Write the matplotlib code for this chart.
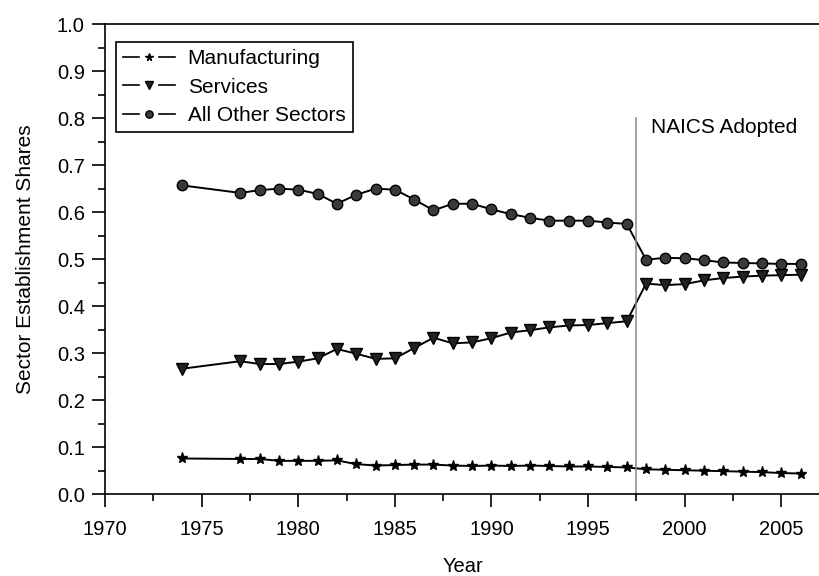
import matplotlib.pyplot as plt
from matplotlib.ticker import MultipleLocator
from matplotlib.lines import Line2D
from matplotlib.legend_handler import HandlerBase

plt.rcParams['font.family'] = ['Liberation Sans', 'DejaVu Sans']

years = [1974, 1977, 1978, 1979, 1980, 1981, 1982, 1983, 1984, 1985, 1986,
         1987, 1988, 1989, 1990, 1991, 1992, 1993, 1994, 1995, 1996, 1997,
         1998, 1999, 2000, 2001, 2002, 2003, 2004, 2005, 2006]

manufacturing = [0.076, 0.075, 0.075, 0.071, 0.071, 0.071, 0.072, 0.064, 0.061, 0.062, 0.063,
                 0.063, 0.061, 0.060, 0.061, 0.060, 0.061, 0.060, 0.059, 0.059, 0.058, 0.057,
                 0.053, 0.052, 0.051, 0.050, 0.049, 0.048, 0.047, 0.045, 0.044]

services = [0.267, 0.283, 0.277, 0.277, 0.282, 0.289, 0.309, 0.299, 0.288, 0.289, 0.311,
            0.333, 0.321, 0.323, 0.332, 0.344, 0.349, 0.355, 0.359, 0.360, 0.364, 0.368,
            0.448, 0.445, 0.447, 0.455, 0.460, 0.463, 0.465, 0.466, 0.467]

other = [0.657, 0.641, 0.647, 0.650, 0.648, 0.639, 0.618, 0.637, 0.650, 0.648, 0.627,
         0.604, 0.618, 0.618, 0.606, 0.596, 0.588, 0.582, 0.582, 0.582, 0.578, 0.575,
         0.499, 0.503, 0.502, 0.498, 0.493, 0.492, 0.491, 0.490, 0.490]

labels = ['Manufacturing', 'Services', 'All Other Sectors']
naics_year = 1997.5


class GapLineHandler(HandlerBase):
    # draws a legend key as  line - gap - marker - gap - line
    def create_artists(self, legend, orig, xdescent, ydescent, width, height,
                       fontsize, trans):
        y = height / 2 - ydescent
        x0, x1 = -xdescent, width - xdescent
        xc = (x0 + x1) / 2
        gap = 0.19 * width
        left = Line2D([x0, xc - gap], [y, y], color='black', lw=1.2)
        right = Line2D([xc + gap, x1], [y, y], color='black', lw=1.2)
        mk = Line2D([xc], [y], ls='none', marker=orig.get_marker(),
                    ms=orig.get_markersize() * 0.7, mfc=orig.get_markerfacecolor(),
                    mec='black')
        for a in (left, right, mk):
            a.set_transform(trans)
        return [left, right, mk]


fig = plt.figure(figsize=(8.2, 5.76), dpi=100)
ax = fig.add_axes([0.128, 0.142, 0.872, 0.816])

styles = [('*', 8, 'black'), ('v', 8, '#222222'), ('o', 7.5, '#3a3a3a')]
lines = []
for vals, (m, s, fc) in zip([manufacturing, services, other], styles):
    ln, = ax.plot(years, vals, color='black', lw=1.4, marker=m, ms=s, mfc=fc, mec='black')
    lines.append(ln)

ax.plot([naics_year, naics_year], [0, 0.8], color='#888888', lw=1.1)
ax.text(naics_year + 0.75, 0.78, 'NAICS Adopted', fontsize=15, va='center')

ax.set_xlim(1970, 2007)
ax.set_ylim(0, 1.0)
ax.xaxis.set_major_locator(MultipleLocator(5))
ax.xaxis.set_minor_locator(MultipleLocator(2.5))
ax.yaxis.set_major_locator(MultipleLocator(0.1))
ax.yaxis.set_minor_locator(MultipleLocator(0.05))
ax.yaxis.set_major_formatter(plt.FormatStrFormatter('%.1f'))
ax.tick_params(which='major', direction='out', length=9.5, width=1.2, labelsize=14.5)
ax.tick_params(axis='x', which='major', pad=9)
ax.tick_params(axis='y', which='major', pad=5)
ax.tick_params(which='minor', direction='out', length=5, width=1.2)
ax.spines['right'].set_visible(False)
for s in ['left', 'bottom', 'top']:
    ax.spines[s].set_linewidth(1.2)

ax.set_xlabel('Year', fontsize=14.5, labelpad=13)
ax.set_ylabel('Sector Establishment Shares', fontsize=15, labelpad=16)

leg = ax.legend(lines, labels, handler_map={Line2D: GapLineHandler()},
                loc='upper left', bbox_to_anchor=(0.015, 0.962), fontsize=15,
                fancybox=False, framealpha=1, edgecolor='black', handlelength=2.5,
                borderpad=0.35, labelspacing=0.45, handletextpad=0.6,
                borderaxespad=0)
leg.get_frame().set_linewidth(1.2)

fig.savefig('out.png', dpi=100)
